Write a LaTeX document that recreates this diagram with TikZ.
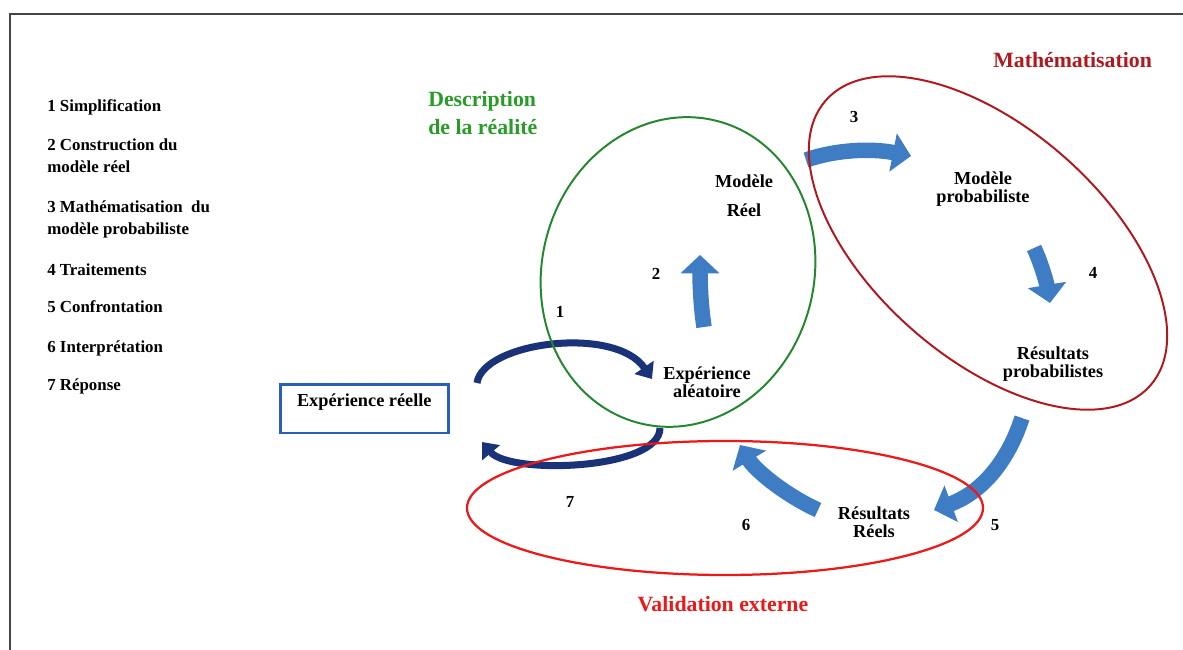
\documentclass[tikz,border=0pt]{standalone}
\usepackage{fontspec}
\setmainfont{Liberation Serif}
\usepackage{tikz}
\usetikzlibrary{arrows.meta, positioning}
\usepackage{xcolor}

\definecolor{framegray}{RGB}{70,70,70}
\definecolor{boxblue}{RGB}{40,95,185}
\definecolor{arcnavy}{RGB}{25,50,120}
\definecolor{arrowblue}{RGB}{62,125,195}
\definecolor{ellgreen}{RGB}{35,135,45}
\definecolor{titlegreen}{RGB}{40,155,40}
\definecolor{mathred}{RGB}{175,25,30}
\definecolor{valred}{RGB}{235,25,25}

\begin{document}
\begin{tikzpicture}[
    x=0.025cm, y=0.025cm,
    item/.style={anchor=base west, inner sep=0pt, align=left, font=\fontsize{12}{16.3}\selectfont\bfseries},
    lbl/.style={anchor=base, inner sep=0pt, align=center, font=\fontsize{13}{13.5}\selectfont\bfseries},
    num/.style={anchor=base, inner sep=0pt, font=\fontsize{12}{14}\selectfont\bfseries},
    title/.style={anchor=base west, inner sep=0pt, align=left, font=\fontsize{15.5}{20}\selectfont\bfseries},
    box/.style={draw=boxblue, line width=1.8pt, inner sep=0pt, minimum width=4.2cm, text height=15.6pt, text depth=19.2pt, font=\fontsize{13}{15}\selectfont\bfseries},
    fatarrow/.style={draw=arrowblue, line width=11pt, -{Triangle[length=13pt, width=27pt]}},
    thinarrow/.style={draw=arcnavy, line width=5pt, -{Triangle[length=10pt, width=16pt]}}
]
    \useasboundingbox (0,0) rectangle (1183,650);

    % cadre
    \draw[framegray, line width=2pt] (10,0) -- (10,636) -- (1183,636);

    % liste des etapes (base = derniere ligne)
    \node[item] (l1) at (47,538) {1 Simplification};
    \node[item] (l2) at (47,477) {2 Construction du\\modèle réel};
    \node[item] (l3) at (47,415) {3 Mathématisation\ \ du\\modèle probabiliste};
    \node[item] (l4) at (47,374) {4 Traitements};
    \node[item] (l5) at (47,337) {5 Confrontation};
    \node[item] (l6) at (47,297) {6 Interprétation};
    \node[item] (l7) at (47,259) {7 Réponse};

    % titres des zones
    \node[title, text=titlegreen] (desc) at (428,515) {Description\\de la réalité};
    \node[title, text=mathred] (math) at (993,582) {Mathématisation};
    \node[title, anchor=base, text=valred] (valid) at (723,38) {Validation externe};

    % etats
    \node[box, anchor=north west] (reelle) at (279,267) {Expérience réelle};
    \node[lbl, font=\fontsize{13}{21}\selectfont\bfseries] (mreel) at (744,433) {Modèle\\Réel};
    \node[lbl] (mproba) at (983,447) {Modèle\\probabiliste};
    \node[lbl] (rproba) at (1053,272) {Résultats\\probabilistes};
    \node[lbl] (alea) at (707,252) {Expérience\\aléatoire};
    \node[lbl] (rreels) at (874,112) {Résultats\\Réels};

    % numeros
    \node[num] (n1) at (560,332) {1};
    \node[num] (n2) at (656,370) {2};
    \node[num] (n3) at (854,527) {3};
    \node[num] (n4) at (1093,371) {4};
    \node[num] (n5) at (995,119) {5};
    \node[num] (n6) at (746,119) {6};
    \node[num] (n7) at (570,142) {7};

    % extremites des fleches
    \coordinate (a1) at (477,267);
    \coordinate (b1) at (652,271);
    \coordinate (a7) at (660,222);
    \coordinate (b7) at (482,208);
    \coordinate (a2) at (704,323);
    \coordinate (b2) at (700,395);
    \coordinate (a3) at (806,490);
    \coordinate (b3) at (911,494);
    \coordinate (a4) at (1034,402);
    \coordinate (b4) at (1050,347);
    \coordinate (a5) at (1022,232);
    \coordinate (b5) at (934,140);
    \coordinate (a6) at (818,140);
    \coordinate (b6) at (740,205);

    % fleches du cycle
    \draw[thinarrow] (a1) .. controls (483,308) and (615,325) .. (b1);
    \draw[thinarrow] (a7) .. controls (660,180) and (510,175) .. (b7);
    \draw[fatarrow] (a2) .. controls (700,350) and (700,375) .. (b2);
    \draw[fatarrow] (a3) .. controls (835,500) and (870,502) .. (b3);
    \draw[fatarrow] (a4) .. controls (1042,385) and (1047,365) .. (b4);
    \draw[fatarrow] (a5) .. controls (1005,180) and (975,155) .. (b5);
    \draw[fatarrow] (a6) .. controls (785,155) and (755,180) .. (b6);

    % zones
    \draw[ellgreen, line width=1.4pt, rotate around={-14.6:(678,378)}] (678,378) ellipse [x radius=136, y radius=156];
    \draw[mathred, line width=1.4pt, rotate around={-41.3:(988,407)}] (988,407) ellipse [x radius=216, y radius=115];
    \draw[valred, line width=1.6pt] (725,142) ellipse [x radius=258, y radius=67];
\end{tikzpicture}
\end{document}
